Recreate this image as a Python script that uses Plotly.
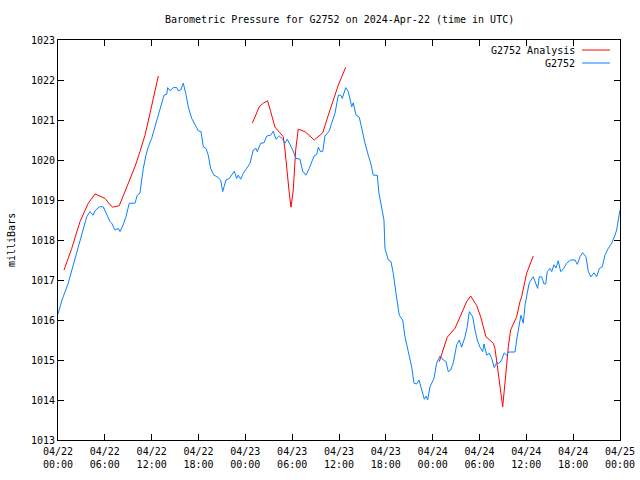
import pandas as pd
import plotly.graph_objects as go

# hours since 2024-04-22 00:00 UTC
obs_hours = [0.0, 0.51, 1.28, 1.79, 2.47, 3.04, 3.68, 4.10, 4.52, 4.74, 5.29, 5.80, 6.24, 6.66, 6.88, 7.30, 7.72, 7.94, 8.29, 8.71,
             9.13, 9.86, 10.16, 10.50, 10.72, 10.93, 11.27, 11.57, 12.00, 12.43, 12.85, 13.28, 13.58, 13.93, 14.05, 14.35, 14.77, 15.21, 15.41, 15.72,
             16.05, 16.36, 16.69, 17.13, 17.55, 17.97, 18.32, 18.61, 18.96, 19.25, 19.56, 19.98, 20.41, 20.84, 21.10, 21.52, 21.94, 22.38, 22.59, 22.89,
             23.10, 23.41, 23.74, 24.17, 24.60, 25.02, 25.37, 25.53, 25.97, 26.39, 26.74, 27.25, 27.58, 27.93, 28.35, 28.79, 29.08, 29.37, 29.63, 30.07,
             30.49, 31.00, 31.35, 31.77, 32.19, 32.50, 32.80, 33.14, 33.35, 33.65, 33.91, 34.20, 34.76, 35.06, 35.49, 35.91, 36.22, 36.42, 36.86, 37.19,
             37.63, 37.83, 38.18, 38.60, 38.91, 39.33, 39.75, 40.06, 40.39, 40.90, 41.12, 41.47, 41.76, 41.89, 42.31, 42.66, 42.95, 43.30, 43.72, 44.16,
             44.45, 44.88, 45.31, 45.61, 45.95, 46.25, 46.59, 46.93, 47.14, 47.36, 47.66, 48.17, 48.51, 48.94, 49.36, 49.71, 50.00, 50.31, 50.64, 51.08,
             51.41, 51.72, 52.14, 52.43, 52.69, 53.13, 53.42, 53.72, 54.06, 54.41, 54.57, 54.92, 55.25, 55.56, 55.89, 56.20, 56.53, 56.84, 57.17, 57.48,
             57.69, 58.55, 58.76, 59.10, 59.31, 59.61, 59.83, 60.34, 60.47, 60.89, 61.24, 61.45, 61.66, 61.97, 62.26, 62.48, 62.68, 63.03, 63.25, 63.54,
             63.80, 64.09, 64.40, 64.73, 65.17, 65.68, 66.23, 66.53, 66.87, 67.22, 67.64, 67.94, 68.28, 68.67, 69.01, 69.35, 69.73, 70.07, 70.50, 70.93,
             71.36, 71.57, 72.0]
obs_pressure = [1016.15, 1016.5, 1016.9, 1017.25, 1017.75, 1018.08, 1018.58, 1018.71, 1018.62, 1018.73, 1018.83, 1018.83, 1018.62, 1018.46, 1018.42, 1018.25, 1018.29, 1018.21, 1018.35, 1018.58,
                1018.92, 1018.92, 1019.12, 1019.17, 1019.5, 1019.79, 1020.12, 1020.33, 1020.54, 1020.83, 1021.12, 1021.46, 1021.62, 1021.64, 1021.81, 1021.73, 1021.81, 1021.81, 1021.73, 1021.75,
                1021.92, 1021.67, 1021.33, 1021.04, 1020.87, 1020.73, 1020.71, 1020.33, 1020.29, 1020.12, 1019.79, 1019.62, 1019.58, 1019.5, 1019.21, 1019.5, 1019.54, 1019.67, 1019.72, 1019.54,
                1019.62, 1019.52, 1019.67, 1019.79, 1019.92, 1020.25, 1020.29, 1020.21, 1020.42, 1020.43, 1020.6, 1020.62, 1020.72, 1020.52, 1020.6, 1020.52, 1020.42, 1020.52, 1020.42, 1020.25,
                1020.04, 1020.02, 1019.72, 1019.62, 1019.79, 1019.96, 1020.1, 1020.14, 1020.32, 1020.21, 1020.21, 1020.6, 1020.73, 1020.92, 1021.17, 1021.62, 1021.62, 1021.54, 1021.81, 1021.71,
                1021.33, 1021.43, 1021.12, 1021.07, 1020.79, 1020.42, 1020.12, 1019.92, 1019.62, 1019.62, 1019.17, 1018.75, 1018.5, 1017.79, 1017.5, 1017.46, 1017.17, 1016.67, 1016.12, 1016.0,
                1015.58, 1015.21, 1014.83, 1014.42, 1014.4, 1014.5, 1014.29, 1014.02, 1014.1, 1014.0, 1014.33, 1014.54, 1014.92, 1015.1, 1015.0, 1014.96, 1014.71, 1014.75, 1014.93, 1015.38,
                1015.5, 1015.32, 1015.58, 1015.83, 1016.21, 1016.08, 1015.75, 1015.5, 1015.32, 1015.21, 1015.4, 1015.12, 1015.17, 1015.04, 1014.81, 1014.93, 1014.92, 1015.0, 1015.18, 1015.12,
                1015.2, 1015.2, 1015.5, 1015.9, 1016.12, 1015.92, 1016.37, 1016.9, 1016.96, 1017.08, 1016.92, 1016.79, 1017.08, 1017.08, 1016.9, 1016.9, 1017.21, 1017.29, 1017.21, 1017.38,
                1017.3, 1017.48, 1017.21, 1017.27, 1017.42, 1017.5, 1017.5, 1017.39, 1017.58, 1017.68, 1017.58, 1017.21, 1017.08, 1017.18, 1017.08, 1017.29, 1017.33, 1017.62, 1017.79, 1017.92,
                1018.12, 1018.25, 1018.75]

ana_hours = [0.77, 1.76, 2.82, 3.88, 4.74, 5.60, 6.02, 6.66, 7.01, 7.85, 8.58, 9.22, 9.86, 10.50, 11.15, 11.79, 12.43, 12.85,
             18.0,
             24.89, 25.79, 26.30, 26.86, 27.25, 27.80, 28.44, 28.86, 29.08, 29.37, 29.63, 29.85, 30.14, 30.45, 30.78, 31.64, 32.28, 32.83, 33.56, 33.91,
             34.63, 35.27, 35.91, 36.86,
             42.0,
             48.85, 49.87, 50.86, 51.50, 52.36, 52.87, 53.64, 54.15, 54.83, 55.77, 55.98, 56.41, 56.97, 57.26, 57.69, 57.99, 58.76, 59.19, 59.40,
             60.04, 60.89]
ana_pressure = [1017.25, 1017.79, 1018.46, 1018.92, 1019.15, 1019.08, 1019.04, 1018.88, 1018.82, 1018.86, 1019.21, 1019.5, 1019.83, 1020.21, 1020.62, 1021.17, 1021.71, 1022.1,
                None,
                1020.92, 1021.33, 1021.42, 1021.48, 1021.21, 1020.82, 1020.68, 1020.58, 1020.25, 1019.58, 1019.17, 1018.82, 1019.25, 1020.25, 1020.77, 1020.71, 1020.6, 1020.5, 1020.62, 1020.68,
                1021.12, 1021.5, 1021.87, 1022.32,
                None,
                1014.96, 1015.57, 1015.79, 1016.08, 1016.46, 1016.6, 1016.36, 1016.08, 1015.58, 1015.42, 1015.29, 1014.67, 1013.83, 1014.42, 1015.33, 1015.75, 1016.08, 1016.46, 1016.58,
                1017.17, 1017.6]

tick_hours = [0, 6, 12, 18, 24, 30, 36, 42, 48, 54, 60, 66, 72]
tick_labels = ["04/22<br>00:00", "04/22<br>06:00", "04/22<br>12:00", "04/22<br>18:00",
               "04/23<br>00:00", "04/23<br>06:00", "04/23<br>12:00", "04/23<br>18:00",
               "04/24<br>00:00", "04/24<br>06:00", "04/24<br>12:00", "04/24<br>18:00",
               "04/25<br>00:00"]
y_ticks = [1013, 1014, 1015, 1016, 1017, 1018, 1019, 1020, 1021, 1022, 1023]

start = pd.Timestamp("2024-04-22 00:00")
to_time = lambda hs: [start + pd.Timedelta(hours=h) for h in hs]

RED = "#ff0000"
BLUE = "#0a80ff"
FONT = "DejaVu Sans Mono"

# plot area in page pixels
L, R, T, B = 58, 620, 40, 440
W, H = R - L, B - T
px = lambda x: (x - L) / W
py = lambda y: (B - y) / H

fig = go.Figure()
fig.add_trace(go.Scatter(x=to_time(ana_hours), y=ana_pressure, mode="lines", name="G2752 Analysis",
                         line=dict(color=RED, width=1), connectgaps=False, showlegend=False))
fig.add_trace(go.Scatter(x=to_time(obs_hours), y=obs_pressure, mode="lines", name="G2752",
                         line=dict(color=BLUE, width=1), showlegend=False))

fig.update_layout(
    width=640, height=480,
    margin=dict(l=L, r=640 - R, t=T, b=480 - B, autoexpand=False),
    paper_bgcolor="white", plot_bgcolor="white",
    font=dict(family=FONT, size=10, color="black"),
    xaxis=dict(range=[start, start + pd.Timedelta(hours=72)], tickvals=to_time(tick_hours), ticktext=tick_labels,
               showgrid=False, zeroline=False, showline=True, linecolor="black", linewidth=1, mirror="allticks",
               ticks="inside", ticklen=6, tickcolor="black", tickfont=dict(family=FONT, size=10), automargin=False,
               ticklabelstandoff=2),
    yaxis=dict(range=[1013, 1023], tickvals=y_ticks, showgrid=False, zeroline=False, showline=True,
               linecolor="black", linewidth=1, mirror="allticks", ticks="inside", ticklen=6, tickcolor="black",
               tickfont=dict(family=FONT, size=10), automargin=False),
)

fig.add_annotation(xref="paper", yref="paper", x=px(339), y=py(20),
                   text="Barometric Pressure for G2752 on 2024-Apr-22 (time in UTC)",
                   showarrow=False, xanchor="center", yanchor="middle", font=dict(family=FONT, size=10))
fig.add_annotation(xref="paper", yref="paper", x=px(11), y=py(240), text="milliBars", textangle=-90,
                   showarrow=False, xanchor="center", yanchor="middle", font=dict(family=FONT, size=10))

# gnuplot-style legend: label then line sample
legend_rows = [("G2752 Analysis", RED), ("G2752", BLUE)]
for i, (label, col) in enumerate(legend_rows):
    yrow = 50 + 13 * i
    fig.add_annotation(xref="paper", yref="paper", x=px(577), y=py(yrow), text=label, showarrow=False,
                       xanchor="right", yanchor="middle", font=dict(family=FONT, size=10))
    fig.add_shape(type="line", xref="paper", yref="paper", x0=px(582), x1=px(610),
                  y0=py(yrow), y1=py(yrow), line=dict(color=col, width=1))

fig.write_html("out.html", config={"displayModeBar": False},
               post_script="document.body.style.margin='0';document.body.style.padding='0';document.body.style.overflow='hidden';")
